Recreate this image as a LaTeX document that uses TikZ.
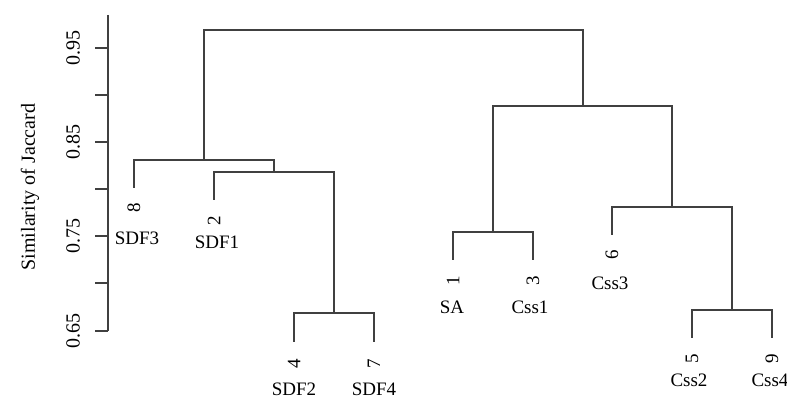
\documentclass[tikz,border=0pt]{standalone}
\usepackage{fontspec}
\setmainfont{Liberation Serif}
\usetikzlibrary{positioning}

\begin{document}
\begin{tikzpicture}[
  x=0.5pt, y=-0.5pt,
  link/.style={draw=black!75, line width=0.8pt},
  axisline/.style={draw=black!75, line width=0.75pt},
  ticklab/.style={rotate=90, inner sep=0pt, font=\fontsize{10}{12}\selectfont},
  num/.style={rotate=90, inner sep=0pt, font=\fontsize{9.5}{11}\selectfont},
  lab/.style={inner sep=0pt, font=\fontsize{9.5}{11}\selectfont},
]
\useasboundingbox (0,0) rectangle (787,401);

% y axis
\coordinate (ytop) at (108,15);
\coordinate (ybot) at (108,331);
\draw[axisline] (ytop) -- (ybot);
\draw[axisline] (95,48) -- (108,48);
\draw[axisline] (95,95) -- (108,95);
\draw[axisline] (95,142) -- (108,142);
\draw[axisline] (95,189) -- (108,189);
\draw[axisline] (95,236) -- (108,236);
\draw[axisline] (95,283) -- (108,283);
\draw[axisline] (95,331) -- (108,331);
\node[ticklab] (t95) at (73,48) {0.95};
\node[ticklab] (t85) at (73,142) {0.85};
\node[ticklab] (t75) at (73,236) {0.75};
\node[ticklab] (t65) at (73,331) {0.65};
\node[ticklab] (ytitle) at (30,187) {Similarity of Jaccard};

% merge points
\coordinate (root) at (393.5,30);
\coordinate (A) at (204,160);
\coordinate (B) at (274,172);
\coordinate (C) at (334,313);
\coordinate (D) at (583,106);
\coordinate (E) at (493,232);
\coordinate (F) at (672,207);
\coordinate (G) at (732,310);

% leaf ends
\coordinate (e8) at (134,188);
\coordinate (e2) at (214,200);
\coordinate (e4) at (294,342);
\coordinate (e7) at (374,342);
\coordinate (e1) at (453,260);
\coordinate (e3) at (533,260);
\coordinate (e6) at (612,235);
\coordinate (e5) at (692,338);
\coordinate (e9) at (772,338);

% tree
\draw[link] (root) -| (A);
\draw[link] (root) -| (D);
\draw[link] (A) -| (e8);
\draw[link] (A) -| (B);
\draw[link] (B) -| (e2);
\draw[link] (B) -| (C);
\draw[link] (C) -| (e4);
\draw[link] (C) -| (e7);
\draw[link] (D) -| (E);
\draw[link] (D) -| (F);
\draw[link] (E) -| (e1);
\draw[link] (E) -| (e3);
\draw[link] (F) -| (e6);
\draw[link] (F) -| (G);
\draw[link] (G) -| (e5);
\draw[link] (G) -| (e9);

% leaf labels
\node[num] (n8) at (134,208) {8};
\node[num] (n2) at (214,221) {2};
\node[num] (n4) at (294,364) {4};
\node[num] (n7) at (374,364) {7};
\node[num] (n1) at (453,281) {1};
\node[num] (n3) at (533,281) {3};
\node[num] (n6) at (612,255) {6};
\node[num] (n5) at (692,359) {5};
\node[num] (n9) at (772,359) {9};
\node[lab] (l8) at (137,238) {SDF3};
\node[lab] (l2) at (217,242) {SDF1};
\node[lab] (l4) at (294,389) {SDF2};
\node[lab] (l7) at (374,389) {SDF4};
\node[lab] (l1) at (452,307) {SA};
\node[lab] (l3) at (530,307) {Css1};
\node[lab] (l6) at (610,283) {Css3};
\node[lab] (l5) at (689,380) {Css2};
\node[lab] (l9) at (770,380) {Css4};
\end{tikzpicture}
\end{document}
